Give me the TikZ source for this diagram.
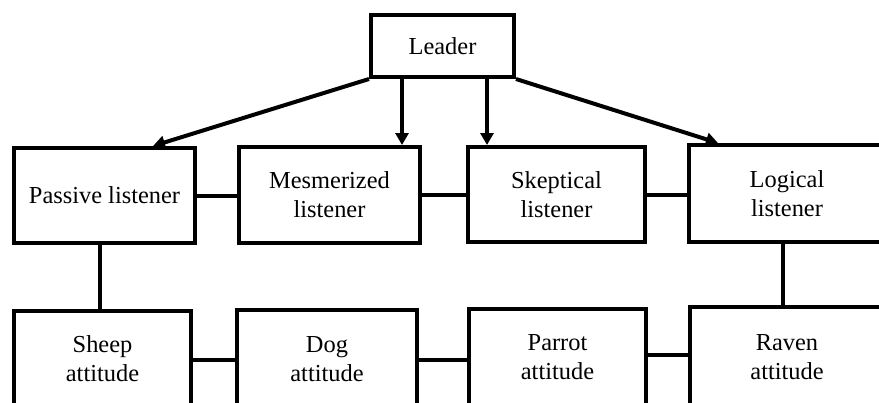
\documentclass[tikz,border=0pt]{standalone}
\usepackage{fontspec}
\setmainfont{Liberation Serif}
\usetikzlibrary{arrows.meta}
\def\boxfont{\fontsize{24.4}{29}\selectfont}
\tikzset{
  blk/.style={draw=black, line width=4pt, fill=white, align=center, inner sep=0pt, font=\boxfont},
  arr/.style={line width=4pt, -{Triangle[length=12pt,width=13pt]}},
  lnk/.style={line width=4pt}
}

\begin{document}
\begin{tikzpicture}[x=1pt,y=-1pt]
      \useasboundingbox (0,0) rectangle (879,402);
      \clip (0,0) rectangle (879,402);

      \node[blk, minimum width=143pt, minimum height=62pt] (leader) at (442.5,46) {Leader};

      \node[blk, minimum width=181pt, minimum height=95pt] (passive) at (104.5,195.5) {Passive listener};
      \node[blk, minimum width=181pt, minimum height=96pt] (mesm) at (329.5,195) {Mesmerized\\listener};
      \node[blk, minimum width=177pt, minimum height=95pt] (skept) at (556.5,194.5) {Skeptical\\listener};
      \node[blk, minimum width=196pt, minimum height=97pt] (logical) at (787,193.5) {Logical\\listener};

      \node[blk, minimum width=177pt, minimum height=96pt] (sheep) at (102.5,359) {Sheep\\attitude};
      \node[blk, minimum width=180pt, minimum height=98pt] (dog) at (327,359) {Dog\\attitude};
      \node[blk, minimum width=177pt, minimum height=97pt] (parrot) at (557.5,357.5) {Parrot\\attitude};
      \node[blk, minimum width=194pt, minimum height=101pt] (raven) at (787,357.5) {Raven\\attitude};

      \draw[arr] (leader.south west) -- ([xshift=48.5pt]passive.north);
      \draw[arr] ([xshift=-40.5pt]leader.south) -- ([xshift=-40.5pt]leader.south |- mesm.north);
      \draw[arr] ([xshift=44.5pt]leader.south) -- ([xshift=44.5pt]leader.south |- skept.north);
      \draw[arr] (leader.south east) -- ([xshift=-69pt]logical.north);

      \draw[lnk] (passive.east) -- (passive.east -| mesm.west);
      \draw[lnk] (mesm.east) -- (mesm.east -| skept.west);
      \draw[lnk] (skept.east) -- (skept.east -| logical.west);

      \draw[lnk] ([xshift=-4.5pt]passive.south) -- ([xshift=-4.5pt]passive.south |- sheep.north);
      \draw[lnk] ([xshift=-4pt]logical.south) -- ([xshift=-4pt]logical.south |- raven.north);

      \draw[lnk] ([yshift=-1pt]sheep.east) -- ([yshift=-1pt]sheep.east -| dog.west);
      \draw[lnk] ([yshift=-1pt]dog.east) -- ([yshift=-1pt]dog.east -| parrot.west);
      \draw[lnk] ([yshift=2.5pt]raven.west -| parrot.east) -- ([yshift=2.5pt]raven.west);
    \end{tikzpicture}
\end{document}
